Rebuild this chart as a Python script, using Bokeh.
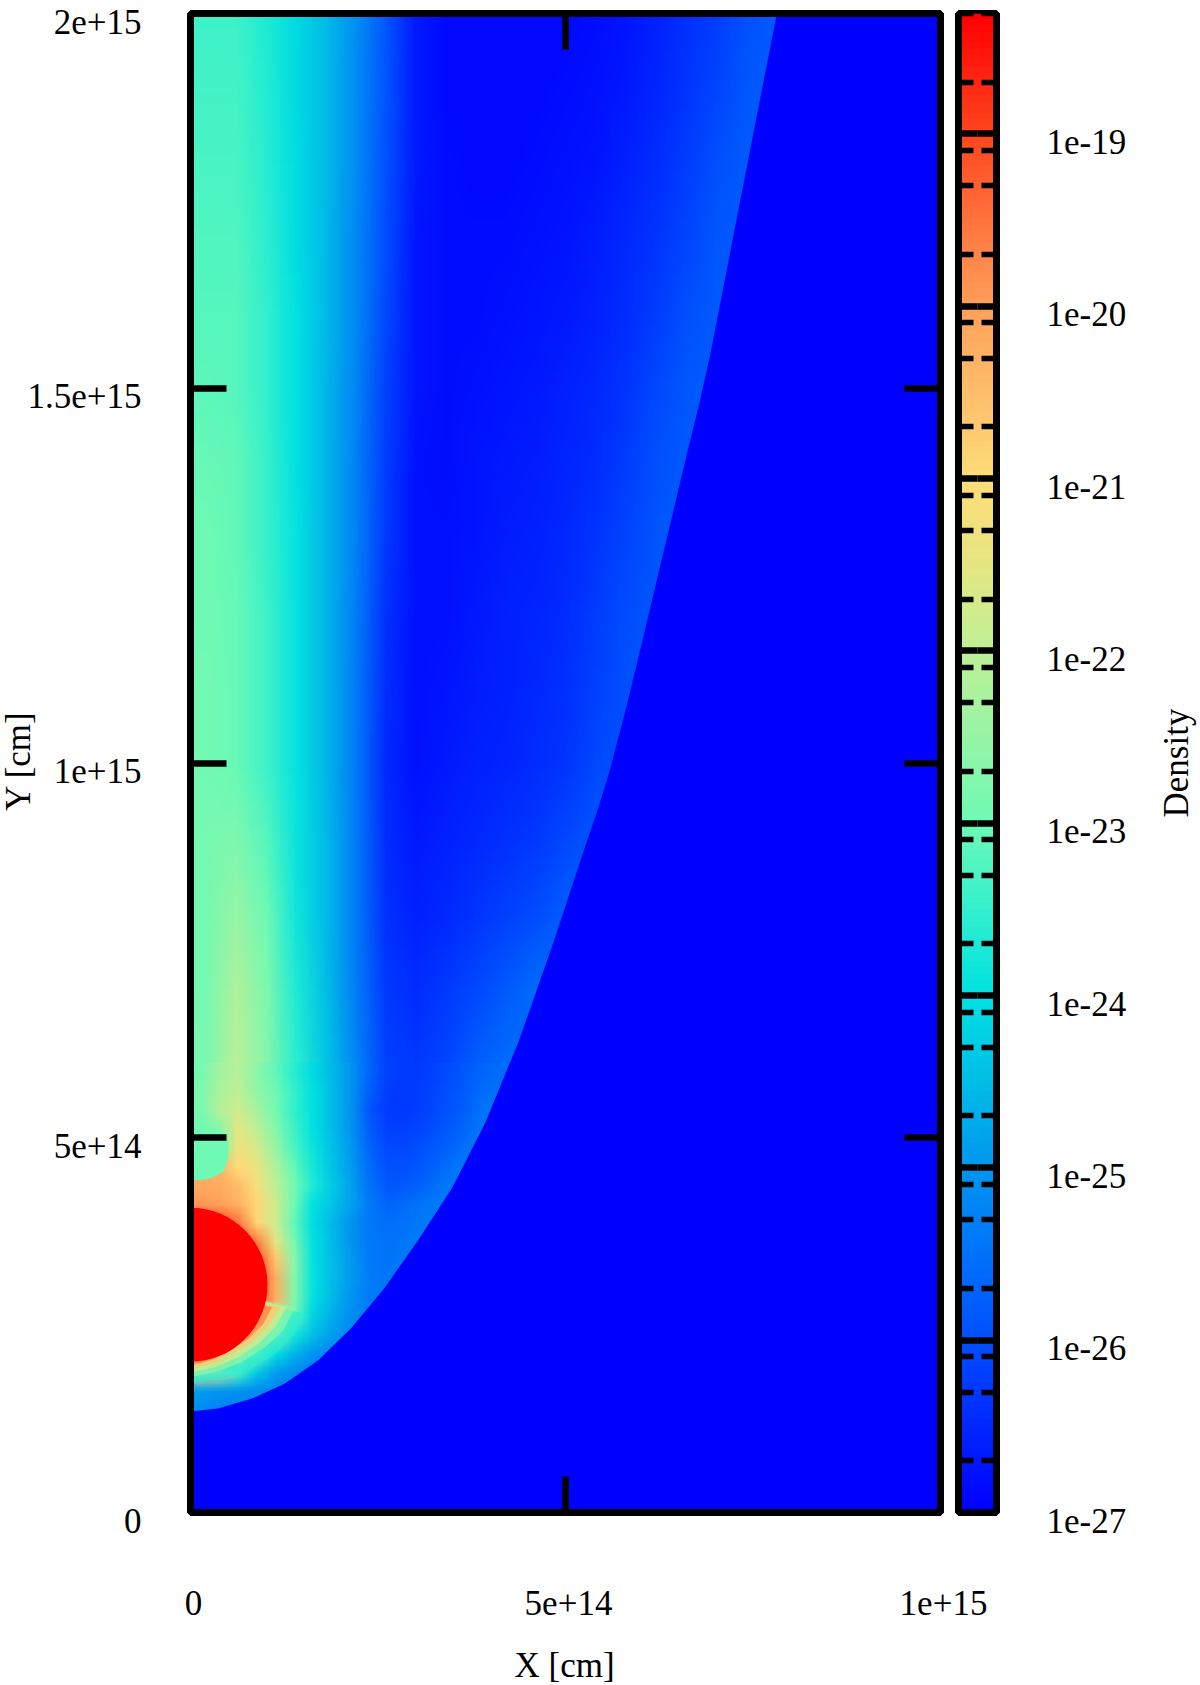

import base64
import math
import struct
import zlib

from bokeh.plotting import figure
from bokeh.layouts import row, column
from bokeh.models import LinearAxis, LogAxis, FixedTicker, Range1d, LinearColorMapper
from bokeh.core.properties import value
from bokeh.embed import file_html
from bokeh.resources import INLINE
import numpy as np

FONT = value("Liberation Serif")
FS = "35px"

x_ticks = [0, 5e14, 1e15]
x_tick_labels = ["0", "5e+14", "1e+15"]
y_ticks = [0, 5e14, 1e15, 1.5e15, 2e15]
y_tick_labels = ["0", "5e+14", "1e+15", "1.5e+15", "2e+15"]
cb_ticks = [1e-27, 1e-26, 1e-25, 1e-24, 1e-23, 1e-22, 1e-21, 1e-20, 1e-19]
cb_tick_labels = ["1e-27", "1e-26", "1e-25", "1e-24", "1e-23", "1e-22", "1e-21", "1e-20", "1e-19"]
cb_minor = [2e-27, 5e-27, 8e-27, 2e-26, 5e-26, 8e-26, 2e-25, 5e-25, 8e-25, 2e-24, 5e-24, 8e-24,
            2e-23, 5e-23, 8e-23, 2e-22, 5e-22, 8e-22, 2e-21, 5e-21, 8e-21, 2e-20, 5e-20, 8e-20,
            2e-19, 5e-19]

# colour scale: log10(density) -> rgb
scale_log = [-27, -26.5, -26, -25.5, -25, -24.5, -24, -23.5, -23, -22.5, -22, -21.5, -21, -20.5, -20, -19.5, -19, -18.3]
scale_r = [0, 0, 0, 0, 0, 0, 0, 50, 110, 150, 190, 230, 255, 255, 255, 255, 255, 255]
scale_g = [0, 40, 80, 115, 150, 190, 225, 240, 250, 245, 240, 230, 220, 190, 160, 115, 70, 0]
scale_b = [255, 255, 255, 250, 240, 230, 225, 205, 180, 165, 150, 130, 120, 105, 90, 60, 30, 0]

# log10(density), upper field: rows y = 2.0e15 ... 0.6e15, columns 25 cells across x
upper_field = [
 [-23.4,-23.4,-23.7,-24.1,-24.55,-25.1,-25.9,-26.7,-26.9,-26.9,-26.9,-26.9,-26.9,-26.85,-26.75,-26.6,-26.4,-26.25,-26.0,-25.85,-25.8,-25.8,-25.8,-25.8,-25.8],
 [-23.35,-23.35,-23.65,-24.1,-24.55,-25.15,-25.95,-26.7,-26.9,-26.9,-26.9,-26.9,-26.85,-26.8,-26.7,-26.55,-26.35,-26.15,-25.9,-25.8,-25.8,-25.8,-25.8,-25.8,-25.8],
 [-23.3,-23.3,-23.6,-24.05,-24.55,-25.15,-26.0,-26.7,-26.85,-26.9,-26.9,-26.85,-26.8,-26.75,-26.6,-26.45,-26.25,-26.0,-25.85,-25.8,-25.8,-25.8,-25.8,-25.8,-25.8],
 [-23.25,-23.25,-23.55,-24.05,-24.55,-25.2,-26.05,-26.75,-26.85,-26.85,-26.85,-26.8,-26.75,-26.65,-26.5,-26.35,-26.15,-25.9,-25.85,-25.8,-25.8,-25.8,-25.8,-25.8,-25.8],
 [-23.2,-23.2,-23.5,-24.0,-24.55,-25.2,-26.1,-26.75,-26.85,-26.85,-26.8,-26.75,-26.7,-26.6,-26.45,-26.25,-26.0,-25.85,-25.8,-25.8,-25.8,-25.8,-25.8,-25.8,-25.8],
 [-23.15,-23.2,-23.5,-24.0,-24.6,-25.25,-26.2,-26.75,-26.85,-26.8,-26.75,-26.7,-26.6,-26.5,-26.35,-26.1,-25.9,-25.8,-25.8,-25.8,-25.8,-25.8,-25.8,-25.8,-25.8],
 [-23.05,-23.1,-23.45,-24.0,-24.6,-25.3,-26.25,-26.8,-26.85,-26.75,-26.7,-26.65,-26.55,-26.45,-26.25,-26.0,-25.85,-25.8,-25.8,-25.8,-25.8,-25.8,-25.8,-25.8,-25.8],
 [-23.0,-23.1,-23.45,-23.95,-24.6,-25.3,-26.3,-26.8,-26.8,-26.75,-26.65,-26.6,-26.5,-26.35,-26.15,-25.95,-25.8,-25.8,-25.8,-25.8,-25.8,-25.8,-25.8,-25.8,-25.8],
 [-23.0,-23.05,-23.4,-23.95,-24.6,-25.35,-26.4,-26.8,-26.8,-26.7,-26.6,-26.55,-26.45,-26.25,-26.05,-25.9,-25.8,-25.8,-25.8,-25.8,-25.8,-25.8,-25.8,-25.8,-25.8],
 [-22.95,-23.05,-23.4,-23.95,-24.6,-25.4,-26.45,-26.8,-26.75,-26.65,-26.6,-26.5,-26.4,-26.2,-26.0,-25.9,-25.8,-25.8,-25.8,-25.8,-25.8,-25.8,-25.8,-25.8,-25.8],
 [-22.95,-23.05,-23.4,-23.95,-24.6,-25.4,-26.5,-26.8,-26.7,-26.6,-26.55,-26.45,-26.35,-26.1,-26.0,-25.9,-25.8,-25.8,-25.8,-25.8,-25.8,-25.8,-25.8,-25.8,-25.8],
 [-22.9,-22.8,-23.2,-23.9,-24.55,-25.4,-26.45,-26.7,-26.6,-26.5,-26.4,-26.3,-26.1,-25.95,-25.8,-25.8,-25.8,-25.8,-25.8,-25.8,-25.8,-25.8,-25.8,-25.8,-25.8],
 [-22.9,-22.5,-23.0,-23.85,-24.55,-25.4,-26.4,-26.6,-26.5,-26.35,-26.2,-26.05,-25.8,-25.7,-25.7,-25.7,-25.7,-25.7,-25.7,-25.7,-25.7,-25.7,-25.7,-25.7,-25.7],
 [-22.9,-22.2,-22.8,-23.7,-24.5,-25.35,-26.3,-26.45,-26.3,-26.1,-25.85,-25.6,-25.6,-25.6,-25.6,-25.6,-25.6,-25.6,-25.6,-25.6,-25.6,-25.6,-25.6,-25.6,-25.6],
 [-22.85,-22.05,-22.7,-23.6,-24.4,-25.25,-26.2,-26.3,-26.15,-25.8,-25.6,-25.6,-25.6,-25.6,-25.6,-25.6,-25.6,-25.6,-25.6,-25.6,-25.6,-25.6,-25.6,-25.6,-25.6],
]

# log10(density), lower-left field: rows from y = 0.6e15 down to 0, columns from x = 0 to 0.6e15
lower_field = [
 [-22.9,-22.35,-22.1,-22.6,-23.1,-23.6,-24.1,-24.55,-25.0,-25.7,-26.2,-26.3,-26.25,-26.1,-25.9,-25.7,-25.6,-25.6,-25.6,-25.6,-25.6,-25.6,-25.6,-25.6],
 [-22.85,-22.25,-22.0,-22.55,-23.0,-23.5,-24.0,-24.5,-25.0,-25.8,-26.25,-26.3,-26.2,-26.05,-25.85,-25.6,-25.5,-25.5,-25.5,-25.5,-25.5,-25.5,-25.5,-25.5],
 [-22.85,-22.1,-21.8,-22.3,-22.9,-23.5,-24.0,-24.5,-25.0,-25.9,-26.3,-26.3,-26.2,-26.0,-25.8,-25.5,-25.4,-25.4,-25.4,-25.4,-25.4,-25.4,-25.4,-25.4],
 [-23.0,-22.8,-21.5,-22.0,-22.7,-23.4,-24.0,-24.5,-25.0,-25.8,-26.2,-26.2,-26.1,-25.9,-25.7,-25.45,-25.4,-25.4,-25.4,-25.4,-25.4,-25.4,-25.4,-25.4],
 [-23.0,-23.0,-21.3,-21.7,-22.5,-23.3,-23.9,-24.45,-24.95,-25.7,-26.1,-26.1,-25.95,-25.8,-25.55,-25.4,-25.4,-25.4,-25.4,-25.4,-25.4,-25.4,-25.4,-25.4],
 [-20.2,-20.3,-21.0,-21.4,-22.2,-23.1,-23.8,-24.4,-24.9,-25.6,-26.0,-26.0,-25.85,-25.6,-25.4,-25.4,-25.4,-25.4,-25.4,-25.4,-25.4,-25.4,-25.4,-25.4],
 [-20.2,-20.2,-20.5,-21.2,-22.0,-22.9,-23.7,-24.3,-24.85,-25.5,-25.9,-25.85,-25.7,-25.45,-25.4,-25.4,-25.4,-25.4,-25.4,-25.4,-25.4,-25.4,-25.4,-25.4],
 [-19.9,-20.0,-20.3,-20.9,-21.8,-23.0,-24.0,-24.4,-24.85,-25.4,-25.7,-25.6,-25.45,-25.4,-25.4,-25.4,-25.4,-25.4,-25.4,-25.4,-25.4,-25.4,-25.4,-25.4],
 [-19.0,-19.0,-19.5,-20.9,-21.8,-23.1,-24.05,-24.55,-25.0,-25.45,-25.55,-25.5,-25.4,-25.4,-25.4,-25.4,-25.4,-25.4,-25.4,-25.4,-25.4,-25.4,-25.4,-25.4],
 [-19.0,-19.0,-19.0,-19.6,-21.5,-22.9,-24.0,-24.5,-25.0,-25.4,-25.5,-25.45,-25.4,-25.4,-25.4,-25.4,-25.4,-25.4,-25.4,-25.4,-25.4,-25.4,-25.4,-25.4],
 [-19.0,-19.0,-19.0,-19.0,-20.6,-22.6,-24.0,-24.5,-24.95,-25.4,-25.5,-25.4,-25.4,-25.4,-25.4,-25.4,-25.4,-25.4,-25.4,-25.4,-25.4,-25.4,-25.4,-25.4],
 [-19.0,-19.0,-19.0,-19.0,-20.2,-22.7,-23.95,-24.5,-24.95,-25.35,-25.45,-25.4,-25.4,-25.4,-25.4,-25.4,-25.4,-25.4,-25.4,-25.4,-25.4,-25.4,-25.4,-25.4],
 [-19.0,-19.0,-19.0,-19.0,-20.2,-22.7,-24.0,-24.55,-25.0,-25.4,-25.45,-25.4,-25.4,-25.4,-25.4,-25.4,-25.4,-25.4,-25.4,-25.4,-25.4,-25.4,-25.4,-25.4],
 [-19.0,-19.0,-19.0,-19.0,-20.9,-23.0,-24.2,-24.7,-25.1,-25.4,-25.4,-25.4,-25.4,-25.4,-25.4,-25.4,-25.4,-25.4,-25.4,-25.4,-25.4,-25.4,-25.4,-25.4],
 [-19.0,-19.0,-19.0,-20.2,-22.0,-23.8,-24.5,-24.9,-25.2,-25.4,-25.4,-25.4,-25.4,-25.4,-25.4,-25.4,-25.4,-25.4,-25.4,-25.4,-25.4,-25.4,-25.4,-25.4],
 [-19.0,-19.0,-21.0,-22.9,-24.0,-24.6,-25.0,-25.3,-25.4,-25.4,-25.4,-25.4,-25.4,-25.4,-25.4,-25.4,-25.4,-25.4,-25.4,-25.4,-25.4,-25.4,-25.4,-25.4],
 [-21.5,-22.0,-23.3,-24.3,-24.9,-25.2,-25.4,-25.4,-25.4,-25.4,-25.4,-25.4,-25.4,-25.4,-25.4,-25.4,-25.4,-25.4,-25.4,-25.4,-25.4,-25.4,-25.4,-25.4],
 [-24.9,-25.0,-25.05,-25.15,-25.3,-25.4,-25.4,-25.4,-25.4,-25.4,-25.4,-25.4,-25.4,-25.4,-25.4,-25.4,-25.4,-25.4,-25.4,-25.4,-25.4,-25.4,-25.4,-25.4],
 [-25.2,-25.3,-25.3,-25.3,-25.3,-25.3,-25.3,-25.3,-25.3,-25.3,-25.3,-25.3,-25.3,-25.3,-25.3,-25.3,-25.3,-25.3,-25.3,-25.3,-25.3,-25.3,-25.3,-25.3],
 [-25.3]*24, [-25.3]*24, [-25.3]*24, [-25.3]*24, [-25.3]*24,
]

# outer shock front (units of 1e15 cm)
shock_x = [0, 0.0367, 0.082, 0.126, 0.170, 0.215, 0.259, 0.303, 0.349, 0.393, 0.437, 0.482, 0.526, 0.546, 0.559, 0.582, 0.603, 0.626, 0.643, 0.662, 0.678, 0.693, 0.710, 0.729, 0.746, 0.759, 0.781, 0.784]
shock_y = [0.1347, 0.1387, 0.152, 0.172, 0.2027, 0.2467, 0.3, 0.3627, 0.4333, 0.52, 0.627, 0.755, 0.888, 0.947, 0.99, 1.078, 1.165, 1.262, 1.333, 1.413, 1.478, 1.545, 1.632, 1.73, 1.817, 1.884, 1.995, 2.02]
ambient_log = -27

# dense sphere (units of 1e15 cm)
sphere_y = 0.304
sphere_r = 0.1027
# low density cap above the sphere (units of 1e15 cm)
cap_x = [0, 0.05, 0.05, 0.045, 0.033, 0.019, 0]
cap_y = [0.505, 0.505, 0.472, 0.456, 0.448, 0.444, 0.443]
cap_log = -23

# density contours under the sphere (units of 1e15 cm)
rim_levels = [-24, -23, -22, -21, -20]
rim_fill_log = [-23.6, -22.6, -21.6, -20.6, -19.6]
rim_x = [
 [0.1527, 0.1349, 0.1127, 0.0816, 0.046, 0],
 [0.1393, 0.1238, 0.0993, 0.0682, 0.0371, 0],
 [0.1282, 0.1127, 0.0904, 0.0638, 0.0327, 0],
 [0.1193, 0.106, 0.0838, 0.0593, 0.0327, 0],
 [0.1091, 0.0971, 0.0771, 0.0527, 0.0282, 0],
]
rim_y = [
 [0.2649, 0.2338, 0.2116, 0.1916, 0.1796, 0.1724],
 [0.2738, 0.2427, 0.2204, 0.2004, 0.1884, 0.1804],
 [0.2738, 0.2471, 0.2249, 0.2071, 0.1938, 0.1867],
 [0.2738, 0.2516, 0.2293, 0.2138, 0.2004, 0.1916],
 [0.2738, 0.2516, 0.2316, 0.216, 0.2036, 0.196],
]


def rgb_tuple(v):
    return (int(round(np.interp(v, scale_log, scale_r))),
            int(round(np.interp(v, scale_log, scale_g))),
            int(round(np.interp(v, scale_log, scale_b))))


def rgb(v):
    return "#%02x%02x%02x" % rgb_tuple(v)


def field_png(rows):
    """Encode read cells, one image pixel per cell; the browser scales the picture."""
    raw = b"".join(b"\x00" + bytes(c for v in r for c in rgb_tuple(v)) for r in rows)

    def chunk(tag, data):
        return struct.pack(">I", len(data)) + tag + data + struct.pack(">I", zlib.crc32(tag + data))

    head = struct.pack(">IIBBBBB", len(rows[0]), len(rows), 8, 2, 0, 0, 0)
    png = b"\x89PNG\r\n\x1a\n" + chunk(b"IHDR", head) + chunk(b"IDAT", zlib.compress(raw)) + chunk(b"IEND", b"")
    return "data:image/png;base64," + base64.b64encode(png).decode()


LOW, HIGH = math.log10(1e-27), math.log10(5e-19)
palette = [rgb(LOW + (HIGH - LOW) * i / 255) for i in range(256)]
mapper = LinearColorMapper(palette=palette, low=LOW, high=HIGH)

# page layout (pixels)
FRAME_W, FRAME_H = 750, 1499
TOP = 13
LEFT_W = 170
FRAME_L = 190
BAR_L = 958
TOTAL_H = 1685
MAIN_H = TOP + FRAME_H + 4
E15 = 1e15
px_x = E15 / FRAME_W
px_y = 2 * E15 / FRAME_H
BORDER = 7
MAJOR = 6.5
MINOR = 5.5


def text_kw():
    return dict(text_font=FONT, text_font_size=FS, text_color="black", text_baseline="middle")


def blank_fig(width, height, x_range, y_range, **kw):
    f = figure(width=width, height=height, x_range=x_range, y_range=y_range, output_backend="svg",
               toolbar_location=None, min_border_left=0, min_border_right=0, min_border_top=0,
               min_border_bottom=0, x_axis_location=None, y_axis_location=None,
               outline_line_color=None, **kw)
    f.grid.visible = False
    return f


# main field
p = figure(width=BAR_L - 8 - LEFT_W, height=MAIN_H, x_range=Range1d(0, E15), y_range=Range1d(0, 2 * E15),
           output_backend="svg", toolbar_location=None, min_border_left=FRAME_L - LEFT_W,
           min_border_right=BAR_L - 8 - FRAME_L - FRAME_W, min_border_top=TOP, min_border_bottom=4,
           x_axis_location=None, y_axis_location=None, outline_line_color="black", outline_line_width=BORDER)
p.grid.visible = False
p.image_url(url=[field_png(upper_field)], x=0, y=2.05 * E15, w=E15, h=1.5 * E15, anchor="top_left")
p.image_url(url=[field_png(lower_field)], x=0, y=0.6 * E15, w=0.6 * E15, h=0.6 * E15, anchor="top_left")
outside_x = [v * E15 for v in shock_x] + [1.05 * E15, 1.05 * E15, 0]
outside_y = [v * E15 for v in shock_y] + [2.02 * E15, -0.05 * E15, -0.05 * E15]
p.patch(outside_x, outside_y, fill_color=rgb(ambient_log), line_color=None)
for xs, ys, fill in zip(rim_x, rim_y, rim_fill_log):
    p.patch([v * E15 for v in xs] + [0], [v * E15 for v in ys] + [sphere_y * E15], fill_color=rgb(fill),
            fill_alpha=0.7, line_color=None)
p.patch([v * E15 for v in cap_x], [v * E15 for v in cap_y], fill_color=rgb(cap_log), line_color=None)
p.ellipse(x=[0], y=[sphere_y * E15], width=2 * sphere_r * E15, height=2 * sphere_r * E15,
          fill_color="#ff0000", line_color=None)


def style(ax, ticks, tick_in):
    ax.ticker = FixedTicker(ticks=ticks)
    ax.major_label_overrides = {t: "" for t in ticks}
    ax.major_label_standoff = 0
    ax.major_tick_in = tick_in
    ax.major_tick_out = 0
    ax.minor_tick_in = 0
    ax.minor_tick_out = 0
    ax.major_tick_line_width = MAJOR
    ax.major_tick_line_color = "black"
    ax.axis_line_width = BORDER
    ax.axis_line_color = "black"
    ax.major_label_text_font_size = "0px"


for side, ticks in (("left", y_ticks), ("right", y_ticks), ("below", x_ticks), ("above", x_ticks)):
    ax = LinearAxis()
    style(ax, ticks, 36)
    p.add_layout(ax, side)

# colour bar
c = figure(width=1000 - (BAR_L - 8), height=MAIN_H, x_range=Range1d(0, 1), y_range=Range1d(1e-27, 5e-19),
           y_axis_type="log", output_backend="svg", toolbar_location=None, min_border_left=8, min_border_right=4,
           min_border_top=TOP, min_border_bottom=4, x_axis_location=None, y_axis_location=None,
           outline_line_color="black", outline_line_width=BORDER)
c.grid.visible = False
gradient = np.linspace(LOW, HIGH, 512).reshape(-1, 1)
c.image(image=[gradient], x=0, y=1e-27, dw=1, dh=5e-19 - 1e-27, color_mapper=mapper)

for side in ("left", "right"):
    ax = LogAxis()
    ax.ticker = FixedTicker(ticks=cb_ticks, minor_ticks=cb_minor)
    ax.major_label_overrides = {t: "" for t in cb_ticks}
    ax.major_label_standoff = 0
    ax.major_tick_in = 19
    ax.major_tick_out = 0
    ax.minor_tick_in = 15
    ax.minor_tick_out = 0
    ax.major_tick_line_width = MAJOR
    ax.minor_tick_line_width = MINOR
    ax.major_tick_line_color = "black"
    ax.minor_tick_line_color = "black"
    ax.axis_line_width = BORDER
    ax.axis_line_color = "black"
    ax.major_label_text_font_size = "0px"
    c.add_layout(ax, side)

# text strips sharing the scales of the panels they label
left_strip = blank_fig(LEFT_W, TOTAL_H, Range1d(0, LEFT_W),
                       Range1d(-(TOTAL_H - TOP - FRAME_H) * px_y, 2 * E15 + TOP * px_y))
left_strip.text(x=[141] * 5, y=y_ticks, text=y_tick_labels, y_offset=8, text_align="right", **text_kw())
left_strip.text(x=[18], y=[E15], text=["Y [cm]"], y_offset=-2, angle=math.pi / 2, text_align="center", **text_kw())

decade_px = FRAME_H / (HIGH - LOW)
right_strip = blank_fig(200, TOTAL_H, Range1d(0, 200),
                        Range1d(10 ** (LOW - (TOTAL_H - TOP - FRAME_H) / decade_px), 10 ** (HIGH + TOP / decade_px)),
                        y_axis_type="log")
right_strip.text(x=[46] * 9, y=cb_ticks, text=cb_tick_labels, y_offset=8, text_align="left", **text_kw())
right_strip.text(x=[176], y=[10 ** ((LOW + HIGH) / 2)], text=["Density"], angle=math.pi / 2, text_align="center", **text_kw())

strip_h = TOTAL_H - MAIN_H
bottom_strip = blank_fig(1000 - LEFT_W, strip_h, Range1d((LEFT_W - FRAME_L) * px_x, (1000 - FRAME_L) * px_x),
                         Range1d(strip_h, 0))
bottom_strip.text(x=x_ticks, y=[1602 - MAIN_H] * 3, text=x_tick_labels, x_offset=3, text_align="center", **text_kw())
bottom_strip.text(x=[5e14], y=[1665 - MAIN_H], text=["X [cm]"], x_offset=-1, text_align="center", **text_kw())

layout = row(left_strip, column(row(p, c, spacing=0), bottom_strip, spacing=0), right_strip, spacing=0)
open("out.html", "w").write(file_html(layout, INLINE))
